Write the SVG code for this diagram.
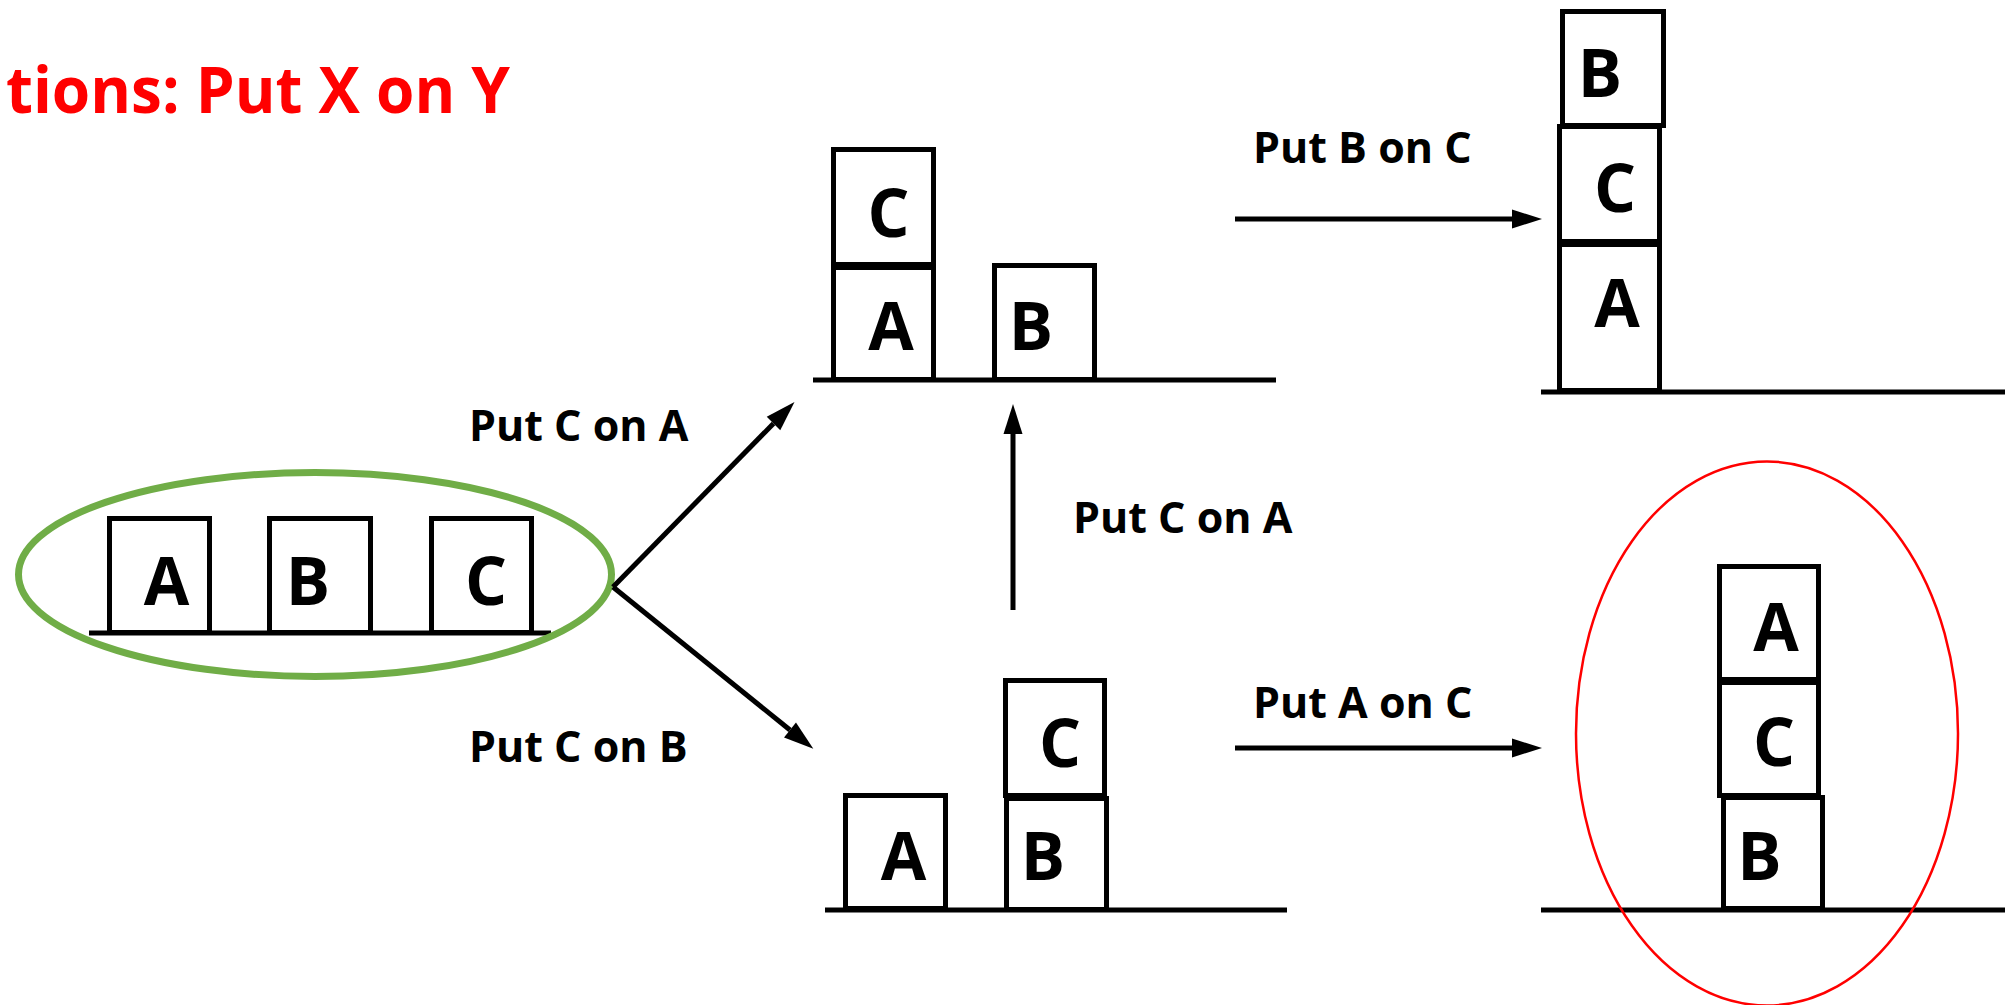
<svg xmlns="http://www.w3.org/2000/svg" width="2005" height="1005" viewBox="0 0 2005 1005">
<style>
  .box { fill: #FFFFFF; stroke: #000000; stroke-width: 5; }
  .ground { stroke: #000000; stroke-width: 5; fill: none; }
  .blk { font-family: "Open Sans", "Liberation Sans", sans-serif; font-weight: bold; font-size: 66px; fill: #000000; text-anchor: middle; }
  .lbl { font-family: "Open Sans", "Liberation Sans", sans-serif; font-weight: bold; font-size: 43px; fill: #000000; }
  .title { font-family: "Open Sans", "Liberation Sans", sans-serif; font-weight: bold; font-size: 64px; fill: #FF0000; }
  .arrow { stroke: #000000; stroke-width: 5; fill: none; marker-end: url(#head); }
</style>
<defs>
  <marker id="head" markerUnits="userSpaceOnUse" markerWidth="32" markerHeight="22" refX="0" refY="0" orient="auto" overflow="visible">
    <path d="M0,-9.5 L30,0 L0,9.5 Z" fill="#000000"/>
  </marker>
</defs>
<rect x="0" y="0" width="2005" height="1005" fill="#FFFFFF"/>

<text class="title" x="6" y="113" textLength="504" lengthAdjust="spacingAndGlyphs">tions: Put X on Y</text>

<g id="state-initial">
  <line class="ground" x1="89" y1="633" x2="551" y2="633"/>
  <rect class="box" x="109.5" y="518.5" width="100" height="114"/>
  <rect class="box" x="269.5" y="518.5" width="101" height="114"/>
  <rect class="box" x="431.5" y="518.5" width="100" height="114"/>
  <text class="blk" x="166.5" y="605">A</text>
  <text class="blk" x="308" y="605">B</text>
  <text class="blk" x="486" y="605">C</text>
  <ellipse cx="315" cy="574.5" rx="296.5" ry="102" fill="none" stroke="#70AD47" stroke-width="7"/>
</g>

<g id="state-c-on-a">
  <line class="ground" x1="813" y1="380" x2="1276" y2="380"/>
  <rect class="box" x="833.5" y="149.5" width="100" height="115"/>
  <rect class="box" x="833.5" y="267.5" width="100" height="112"/>
  <rect class="box" x="994.5" y="265.5" width="100" height="114"/>
  <text class="blk" x="888.5" y="237">C</text>
  <text class="blk" x="891" y="350">A</text>
  <text class="blk" x="1031" y="350">B</text>
</g>

<g id="state-c-on-b">
  <line class="ground" x1="825" y1="910" x2="1287" y2="910"/>
  <rect class="box" x="845.5" y="795.5" width="100" height="113"/>
  <rect class="box" x="1006.5" y="798.5" width="100" height="111"/>
  <rect class="box" x="1005.5" y="680.5" width="99" height="115"/>
  <text class="blk" x="903.5" y="880">A</text>
  <text class="blk" x="1043" y="880">B</text>
  <text class="blk" x="1060" y="767">C</text>
</g>

<g id="state-b-on-c-on-a">
  <line class="ground" x1="1541" y1="392" x2="2005" y2="392"/>
  <rect class="box" x="1559.5" y="244.5" width="100" height="146"/>
  <rect class="box" x="1559.5" y="126.5" width="100" height="115"/>
  <rect class="box" x="1562.5" y="11.5" width="101" height="114"/>
  <text class="blk" x="1617" y="327">A</text>
  <text class="blk" x="1615" y="212">C</text>
  <text class="blk" x="1600" y="97">B</text>
</g>

<g id="state-a-on-c-on-b">
  <line class="ground" x1="1541" y1="910" x2="2005" y2="910"/>
  <rect class="box" x="1723.5" y="797.5" width="99" height="111"/>
  <rect class="box" x="1719.5" y="682.5" width="99" height="113"/>
  <rect class="box" x="1719.5" y="566.5" width="99" height="113"/>
  <text class="blk" x="1759.5" y="880">B</text>
  <text class="blk" x="1774" y="766">C</text>
  <text class="blk" x="1776" y="651">A</text>
  <ellipse cx="1767" cy="733.5" rx="191" ry="272" fill="none" stroke="#FF0000" stroke-width="2.5"/>
</g>

<g id="connectors">
  <line class="arrow" x1="613" y1="587" x2="773.5" y2="423.5"/>
  <line class="arrow" x1="613" y1="587" x2="790" y2="730"/>
  <line class="arrow" x1="1013" y1="610" x2="1013" y2="434"/>
  <line class="arrow" x1="1235" y1="219" x2="1512" y2="219"/>
  <line class="arrow" x1="1235" y1="748" x2="1512" y2="748"/>
  <text class="lbl" x="469" y="441">Put C on A</text>
  <text class="lbl" x="469" y="762">Put C on B</text>
  <text class="lbl" x="1073" y="533">Put C on A</text>
  <text class="lbl" x="1253" y="163">Put B on C</text>
  <text class="lbl" x="1253" y="718">Put A on C</text>
</g>
</svg>
